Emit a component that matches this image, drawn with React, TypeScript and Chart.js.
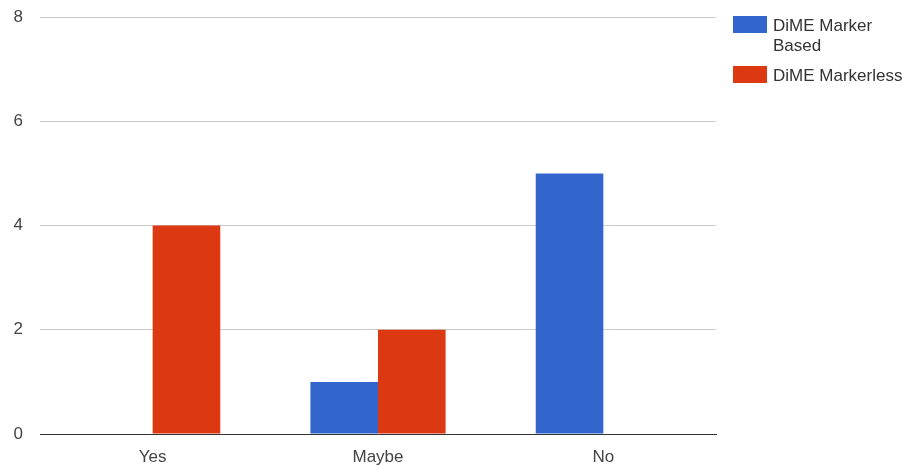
import React, { useEffect, useRef } from "react";
import { Chart, registerables } from "chart.js";

Chart.register(...registerables);

const categories = ["Yes", "Maybe", "No"];
const markerBased = [0, 1, 5];
const markerless = [4, 2, 0];
const seriesNames = ["DiME Marker Based", "DiME Markerless"];
const seriesColors = ["#3366cc", "#dc3912"];
const yMin = 0;
const yMax = 8;
const yStep = 2;

const FONT = "'Liberation Sans', Arial, sans-serif";

export default function App() {
  const ref = useRef<HTMLCanvasElement | null>(null);

  useEffect(() => {
    if (!ref.current) return;
    const chart = new Chart(ref.current, {
      type: "bar",
      data: {
        labels: categories,
        datasets: [
          {
            label: seriesNames[0],
            data: markerBased,
            backgroundColor: seriesColors[0],
            borderWidth: 0,
            categoryPercentage: 0.6,
            barPercentage: 1,
          },
          {
            label: seriesNames[1],
            data: markerless,
            backgroundColor: seriesColors[1],
            borderWidth: 0,
            categoryPercentage: 0.6,
            barPercentage: 1,
          },
        ],
      },
      options: {
        responsive: false,
        animation: false,
        layout: { padding: { top: 17, right: 190, left: 0, bottom: 0 } },
        plugins: {
          legend: { display: false },
          tooltip: { enabled: false },
        },
        scales: {
          x: {
            grid: { display: false, drawTicks: false },
            border: { display: true, color: "#333333", width: 1 },
            ticks: {
              color: "#444444",
              font: { family: FONT, size: 17 },
              padding: 13,
            },
            afterFit: (s: any) => {
              s.height = 32;
              s.paddingLeft = 0;
              s.paddingRight = 0;
            },
          },
          y: {
            min: yMin,
            max: yMax,
            ticks: {
              stepSize: yStep,
              color: "#444444",
              font: { family: FONT, size: 17 },
              padding: 17,
            },
            grid: { color: "#cccccc", drawTicks: false },
            border: { display: false },
            afterFit: (s: any) => {
              s.width = 40;
              s.paddingTop = 0;
              s.paddingBottom = 0;
            },
          },
        },
      },
    });
    return () => chart.destroy();
  }, []);

  const textStyle: React.CSSProperties = {
    position: "absolute",
    left: 773,
    width: 133,
    fontFamily: FONT,
    fontSize: 17,
    lineHeight: "20px",
    color: "#333333",
  };

  return (
    <div
      style={{
        position: "absolute",
        left: 0,
        top: 0,
        width: 906,
        height: 466,
        background: "#ffffff",
        overflow: "hidden",
      }}
    >
      <canvas ref={ref} width={906} height={466} style={{ display: "block" }} />
      <div
        style={{
          position: "absolute",
          left: 733,
          top: 16,
          width: 34,
          height: 17,
          background: seriesColors[0],
        }}
      />
      <div style={{ ...textStyle, top: 16 }}>{seriesNames[0]}</div>
      <div
        style={{
          position: "absolute",
          left: 733,
          top: 66,
          width: 34,
          height: 17,
          background: seriesColors[1],
        }}
      />
      <div style={{ ...textStyle, top: 66 }}>{seriesNames[1]}</div>
    </div>
  );
}
